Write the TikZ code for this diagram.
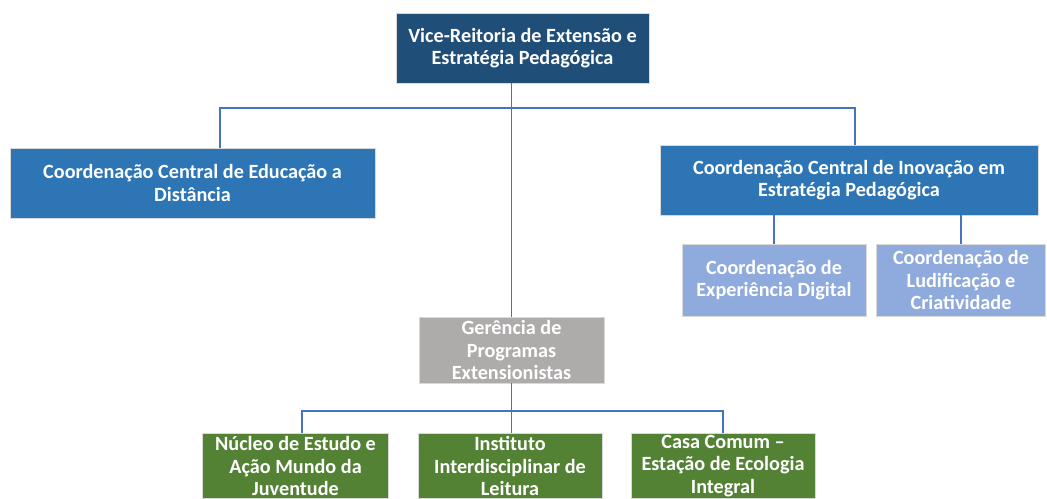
\documentclass[tikz,border=0pt]{standalone}
\usepackage{fontspec}
\setmainfont{Carlito}
\usepackage{tikz}
\usetikzlibrary{calc, positioning}
\definecolor{vrblue}{HTML}{1F4E79}
\definecolor{midblue}{HTML}{2E75B6}
\definecolor{lightblue}{HTML}{8FAADC}
\definecolor{greybox}{HTML}{AEABAB}
\definecolor{greenbox}{HTML}{548235}
\definecolor{lineblue}{HTML}{4472C4}
\tikzstyle{box} = [rectangle, draw=white!85!black, line width=0.3pt, text=white, align=center, inner sep=1pt, font=\bfseries\fontsize{11.5}{12.7}\selectfont]
\tikzstyle{chief} = [box, fill=vrblue, minimum width=5.06cm, minimum height=1.4cm]
\tikzstyle{central} = [box, fill=midblue, minimum height=1.4cm]
\tikzstyle{coord} = [box, fill=lightblue, minimum width=3.68cm, minimum height=1.44cm]
\tikzstyle{manager} = [box, fill=greybox, minimum width=3.7cm, minimum height=1.32cm]
\tikzstyle{program} = [box, fill=greenbox, minimum width=3.72cm, minimum height=1.3cm]
\tikzstyle{line} = [draw=lineblue, line width=0.8pt]

\begin{document}
\begin{tikzpicture}[x=0.02cm, y=-0.02cm, node distance = 10mm, auto]
		\useasboundingbox (0,0) rectangle (1047,498);
		\node (VR) [chief] at (522.5,48) {Vice-Reitoria de Extensão e\\Estratégia Pedagógica};
		\node (CCED) [central, minimum width=7.3cm] at (192.5,183) {Coordenação Central de Educação a\\Distância};
		\node (CCIEP) [central, minimum width=7.56cm] at (849,180) {Coordenação Central de Inovação em\\Estratégia Pedagógica};
		\node (CED) [coord] at (774,280) {Coordenação de\\Experiência Digital};
		\node (CLC) [coord, minimum width=3.38cm] at (961,280) {Coordenação de\\Ludificação e\\Criatividade};
		\node (GPE) [manager] at (511.5,350) {Gerência de\\Programas\\Extensionistas};
		\node (NEA) [program] at (295.5,466) {Núcleo de Estudo e\\Ação Mundo da\\Juventude};
		\node (IIL) [program, minimum width=3.68cm] at (510,466) {Instituto\\Interdisciplinar de\\Leitura};
		\node (CASA) [program, minimum width=3.68cm] at (723,466) {Casa Comum --\\Estação de Ecologia\\Integral};
		\coordinate (BusL) at (220,108);
		\coordinate (BusR) at (855,108);
		\coordinate (BusB) at (302,411);
		\draw [line] (GPE.north) -- (GPE.north |- VR.south);
		\draw [line] (BusL |- CCED.north) -- (BusL) -- (BusR) -- (BusR |- CCIEP.north);
		\draw [line] (CED.north) -- (CED.north |- CCIEP.south);
		\draw [line] (CLC.north) -- (CLC.north |- CCIEP.south);
		\draw [line] (GPE.south) -- (GPE.south |- IIL.north);
		\draw [line] (BusB |- NEA.north) -- (BusB) -- (CASA.north |- BusB) -- (CASA.north);
\end{tikzpicture}
\end{document}
